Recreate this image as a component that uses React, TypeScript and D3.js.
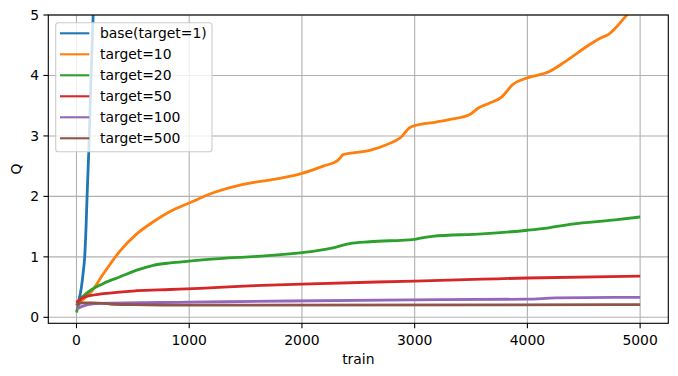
import React from "react";
import * as d3 from "d3";

const W = 678;
const H = 376;

const seriesNames = ["base(target=1)", "target=10", "target=20", "target=50", "target=100", "target=500"];
const seriesColors = ["#1f77b4", "#ff7f0e", "#2ca02c", "#d62728", "#9467bd", "#8c564b"];

const baseX = [0, 20, 44, 60, 73, 85, 94, 104, 112, 124, 135, 148, 160];
const baseY = [0.2, 0.28, 0.5, 0.75, 1.0, 1.5, 2.0, 2.5, 2.9, 3.7, 4.3, 5.0, 5.6];

const t10X = [0, 50, 121, 239, 387, 535, 682, 830, 1000, 1213, 1479, 1745, 2000, 2188, 2320, 2336, 2365, 2601, 2743, 2890, 2950, 3000, 3190, 3304, 3485, 3573, 3661, 3776, 3864, 4000, 4190, 4336, 4543, 4650, 4720, 4779, 4882, 5000];
const t10Y = [0.2, 0.28, 0.4, 0.72, 1.1, 1.38, 1.58, 1.75, 1.89, 2.06, 2.2, 2.28, 2.38, 2.5, 2.6, 2.63, 2.69, 2.76, 2.85, 3.0, 3.13, 3.17, 3.23, 3.27, 3.35, 3.47, 3.54, 3.65, 3.84, 3.96, 4.06, 4.23, 4.5, 4.62, 4.68, 4.78, 5.0, 5.22];

const t20X = [0, 30, 92, 239, 387, 535, 682, 830, 1000, 1327, 1534, 1888, 2000, 2276, 2424, 2601, 3000, 3050, 3156, 3599, 4000, 4190, 4395, 4779, 5000];
const t20Y = [0.08, 0.28, 0.4, 0.56, 0.67, 0.78, 0.86, 0.9, 0.93, 0.98, 1.0, 1.05, 1.07, 1.15, 1.22, 1.25, 1.29, 1.31, 1.34, 1.38, 1.44, 1.48, 1.54, 1.61, 1.66];

const t50X = [0, 62, 239, 535, 830, 1096, 1534, 2000, 3000, 3599, 4000, 5000];
const t50Y = [0.24, 0.33, 0.39, 0.44, 0.46, 0.48, 0.52, 0.55, 0.6, 0.63, 0.65, 0.68];

const t100X = [0, 50, 100, 200, 1000, 1888, 3000, 4000, 4250, 5000];
const t100Y = [0.14, 0.18, 0.21, 0.23, 0.25, 0.27, 0.29, 0.3, 0.32, 0.33];

const t500X = [0, 50, 150, 300, 500, 1000, 5000];
const t500Y = [0.2, 0.24, 0.24, 0.22, 0.21, 0.2, 0.21];

const xTicks = [0, 1000, 2000, 3000, 4000, 5000];
const yTicks = [0, 1, 2, 3, 4, 5];

const allX = [baseX, t10X, t20X, t50X, t100X, t500X];
const allY = [baseY, t10Y, t20Y, t50Y, t100Y, t500Y];

const L = 48.3, R = 668.3, T = 15, B = 323.3;
const FONT = "DejaVu Sans, sans-serif";

export default function App() {
  const x = d3.scaleLinear().domain([-250, 5250]).range([L, R]);
  const y = d3.scaleLinear().domain([-0.099, 5]).range([B, T]);
  const line = d3.line<[number, number]>().x((d) => x(d[0])).y((d) => y(d[1])).curve(d3.curveMonotoneX);

  const legX = 55.7, legY = 22.7, legW = 156.3, legH = 129;
  return (
    <svg width={W} height={H} style={{ position: "absolute", left: 0, top: 0 }} fontFamily={FONT}>
      <rect width={W} height={H} fill="#fff" />
      <defs>
        <clipPath id="plot">
          <rect x={L} y={T} width={R - L} height={B - T} />
        </clipPath>
      </defs>
      {xTicks.map((t) => (
        <line key={"gx" + t} x1={x(t)} x2={x(t)} y1={T} y2={B} stroke="#b0b0b0" strokeWidth={1.1} />
      ))}
      {yTicks.map((t) => (
        <line key={"gy" + t} x1={L} x2={R} y1={y(t)} y2={y(t)} stroke="#b0b0b0" strokeWidth={1.1} />
      ))}
      <g clipPath="url(#plot)">
        {allX.map((xs, i) => (
          <path
            key={i}
            d={line(xs.map((v, j) => [v, allY[i][j]] as [number, number])) || ""}
            fill="none"
            stroke={seriesColors[i]}
            strokeWidth={2.8}
            strokeLinejoin="round"
          />
        ))}
      </g>
      <rect x={L} y={T} width={R - L} height={B - T} fill="none" stroke="#000" strokeWidth={1.1} />
      {xTicks.map((t) => (
        <g key={"tx" + t}>
          <line x1={x(t)} x2={x(t)} y1={B} y2={B + 4.9} stroke="#000" strokeWidth={1.1} />
          <text x={x(t)} y={B + 21.5} textAnchor="middle" fontSize={13.9} fill="#000">
            {t}
          </text>
        </g>
      ))}
      {yTicks.map((t) => (
        <g key={"ty" + t}>
          <line x1={L - 4.9} x2={L} y1={y(t)} y2={y(t)} stroke="#000" strokeWidth={1.1} />
          <text x={L - 9.3} y={y(t)} dy="0.36em" textAnchor="end" fontSize={13.9} fill="#000">
            {t}
          </text>
        </g>
      ))}
      <text x={(L + R) / 2} y={363.5} textAnchor="middle" fontSize={13.9} fill="#000">
        train
      </text>
      <text transform={`translate(20.5, ${(T + B) / 2}) rotate(-90)`} textAnchor="middle" fontSize={13.9} fill="#000">
        Q
      </text>
      <rect x={legX} y={legY} width={legW} height={legH} rx={2.8} fill="#fff" fillOpacity={0.8} stroke="#cccccc" strokeWidth={1.1} />
      {seriesNames.map((n, i) => {
        const ry = 33.3 + i * 21;
        return (
          <g key={n}>
            <line x1={60} x2={89.3} y1={ry} y2={ry} stroke={seriesColors[i]} strokeWidth={2.1} />
            <text x={100} y={ry} dy="0.36em" fontSize={13.9} fill="#000">
              {n}
            </text>
          </g>
        );
      })}
    </svg>
  );
}
